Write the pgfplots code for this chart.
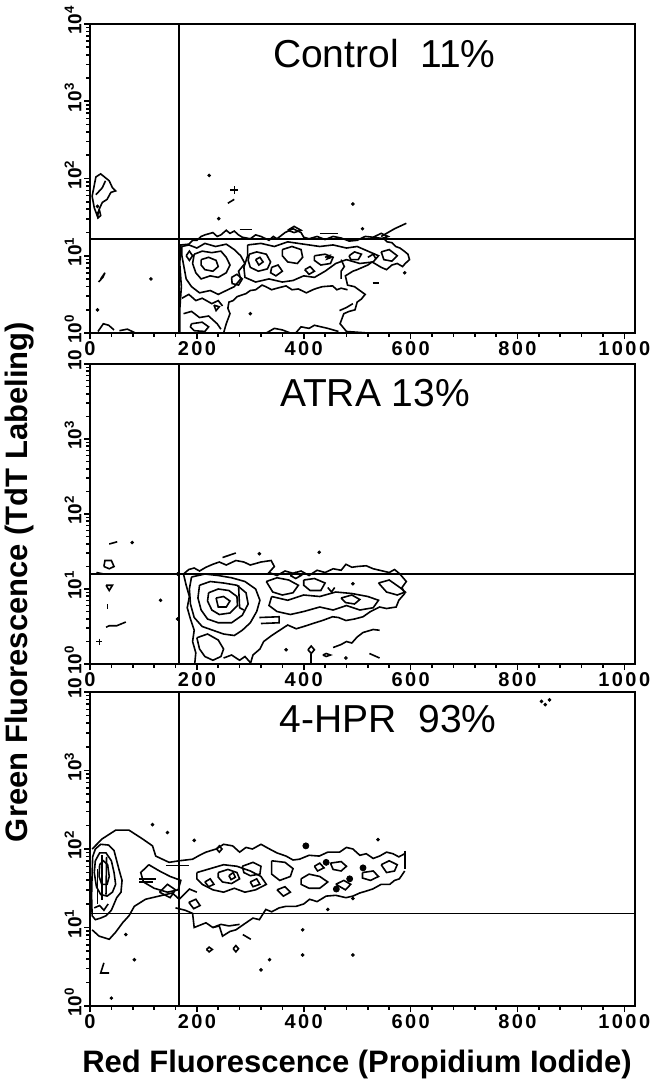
\documentclass[border=0pt]{standalone}
\usepackage{fontspec}
\setmainfont{Liberation Sans}
\newfontfamily\tickfont[LetterSpace=12]{Liberation Sans}
\usepackage{pgfplots}
\pgfplotsset{compat=1.18}

\pgfplotsset{
  facs/.style={
    scale only axis, width=272.5pt,
    xmin=0, xmax=1020, ymin=0, ymax=4,
    axis line style={line width=1pt},
    xtick={0,200,400,600,800,1000},
    xticklabels={0,200,400,600,800,1000},
    minor x tick num=4,
    ytick={0,1,2,3,4},
    minor ytick={0.301,0.477,0.602,0.699,0.778,0.845,0.903,0.954,
      1.301,1.477,1.602,1.699,1.778,1.845,1.903,1.954,
      2.301,2.477,2.602,2.699,2.778,2.845,2.903,2.954,
      3.301,3.477,3.602,3.699,3.778,3.845,3.903,3.954},
    tick align=outside, tick pos=left,
    major tick length=3pt, minor tick length=1.8pt,
    every tick/.style={black, line width=0.8pt},
    xticklabel style={font=\tickfont\bfseries\fontsize{10}{11}\selectfont, inner sep=1pt},
    yticklabel style={font=\bfseries\fontsize{9.5}{10}\selectfont,
      rotate=90, anchor=south, inner sep=1pt, xshift=2pt},
    clip=false,
  },
  cont/.style={black, line width=0.8pt, mark=none},
  gate/.style={black, line width=0.85pt, mark=none},
  dots/.style={only marks, mark=*, mark size=0.7pt, black},
}

\begin{document}
\begin{tikzpicture}
\useasboundingbox (0,0) rectangle (327.5pt,-542pt);

% ---------------- Control ----------------
\begin{axis}[facs, height=154.5pt, at={(45pt,-12pt)}, anchor=north west,
  yticklabels={10\textsuperscript{0},10\textsuperscript{1},10\textsuperscript{2},10\textsuperscript{3},10\textsuperscript{4}}]
\addplot[gate] coordinates {(166,0) (166,4)};
\addplot[gate] coordinates {(0,1.22) (1020,1.22)};
% outer contour
\addplot[cont] coordinates {(168,0.00) (168,0.30) (171,0.60) (168,0.90) (170,1.14) (185,1.15) (192,1.20) (200,1.20) (208,1.25) (215,1.27) (230,1.30) (238,1.25) (245,1.27) (255,1.33) (262,1.29) (270,1.32) (278,1.27) (285,1.24) (300,1.22) (310,1.27) (320,1.25) (335,1.20) (343,1.25) (350,1.22) (365,1.30) (380,1.35) (395,1.30) (400,1.24) (410,1.22) (425,1.25) (440,1.21) (455,1.25) (470,1.23) (485,1.19) (500,1.20) (515,1.25) (530,1.24) (550,1.22) (556,1.18) (565,1.17) (572,1.12) (580,1.10) (588,1.06) (595,1.02) (598,0.95) (590,0.90) (585,0.86) (575,0.90) (565,0.88) (555,0.82) (545,0.85) (528,0.92) (520,0.88) (510,0.85) (500,0.82) (492,0.80) (478,0.74) (482,0.62) (495,0.60) (505,0.55) (515,0.50) (508,0.44) (500,0.40) (496,0.30) (485,0.28) (475,0.25) (468,0.12) (480,0.02) (520,0.00)};
\addplot[cont] coordinates {(250,0.00) (255,0.12) (262,0.25) (258,0.32) (260,0.40) (268,0.42) (275,0.47) (292,0.51) (300,0.55) (310,0.56) (322,0.62) (329,0.60) (340,0.56) (350,0.58) (367,0.61) (378,0.56) (390,0.57) (405,0.52) (417,0.56) (425,0.58) (435,0.60) (454,0.61) (462,0.56) (470,0.58) (482,0.56)};
% inner loops
\addplot[cont] coordinates {(172,1.12) (185,1.14) (200,1.10) (215,1.16) (235,1.12) (255,1.15) (270,1.08) (282,1.00) (290,0.90) (278,0.80) (282,0.70) (270,0.60) (255,0.55) (240,0.50) (225,0.55) (205,0.52) (190,0.60) (180,0.70) (176,0.85) (172,1.00) (172,1.12)};
\addplot[cont] coordinates {(195,1.02) (210,1.06) (228,1.04) (245,1.06) (255,0.98) (262,0.88) (255,0.78) (240,0.72) (225,0.74) (208,0.70) (198,0.78) (192,0.90) (195,1.02)};
\addplot[cont] coordinates {(208,0.95) (222,0.98) (236,0.94) (240,0.86) (230,0.80) (215,0.82) (208,0.88) (208,0.95)};
\addplot[cont] coordinates {(298,1.02) (312,1.05) (330,1.02) (338,0.92) (332,0.83) (315,0.80) (300,0.85) (296,0.94) (298,1.02)};
\addplot[cont] coordinates {(360,1.08) (378,1.12) (395,1.08) (398,0.98) (388,0.90) (370,0.92) (360,1.00) (360,1.08)};
\addplot[cont] coordinates {(295,1.14) (320,1.16) (345,1.12) (370,1.18) (400,1.15) (430,1.12) (455,1.14) (480,1.10) (500,1.12) (520,1.06) (540,1.00) (530,0.92) (505,0.90) (480,0.95) (460,0.90) (440,0.80) (420,0.72) (400,0.74) (380,0.68) (360,0.66) (335,0.70) (310,0.66) (290,0.72) (288,0.85) (295,1.00) (295,1.14)};
\addplot[cont] coordinates {(420,1.00) (440,1.02) (455,0.98) (450,0.90) (432,0.88) (420,0.94) (420,1.00)};
\addplot[cont] coordinates {(545,1.05) (560,1.08) (575,1.00) (565,0.93) (550,0.95) (545,1.05)};
\addplot[cont] coordinates {(265,0.72) (275,0.76) (285,0.70) (278,0.62) (266,0.64) (265,0.72)};
\addplot[cont] coordinates {(340,0.85) (352,0.88) (360,0.80) (348,0.74) (338,0.78) (340,0.85)};
\addplot[cont] coordinates {(470,0.70) (470,0.80) (476,0.86) (470,0.95)};
\addplot[cont] coordinates {(485,1.00) (495,1.05) (508,1.02) (502,0.95) (488,0.95) (485,1.00)};
\addplot[cont] coordinates {(180,1.00) (186,1.06) (192,1.00) (186,0.94) (180,1.00)};
\addplot[cont] coordinates {(402,0.82) (412,0.86) (420,0.80) (410,0.76) (402,0.82)};
\addplot[cont] coordinates {(310,0.95) (318,0.98) (324,0.92) (316,0.88) (310,0.95)};
\addplot[cont] coordinates {(520,0.98) (530,1.02) (535,0.96)};
\addplot[cont] coordinates {(172,0.45) (185,0.50) (198,0.42) (210,0.45) (228,0.38) (240,0.42) (248,0.35)};
\addplot[cont] coordinates {(175,0.25) (190,0.28) (205,0.20) (222,0.22) (238,0.12) (245,0.05)};
\addplot[cont] coordinates {(190,0.12) (210,0.14) (222,0.08) (215,0.02) (195,0.03) (188,0.08) (190,0.12)};
\addplot[cont] coordinates {(330,0.00) (345,0.06) (360,0.04) (375,0.00)};
\addplot[cont] coordinates {(385,0.00) (395,0.08) (410,0.06) (420,0.10) (445,0.06) (465,0.02)};
\addplot[cont] coordinates {(232,0.36) (242,0.34) (236,0.29) (232,0.36)};
\addplot[cont] coordinates {(467,0.29) (480,0.33) (492,0.38)};
\addplot[cont] coordinates {(529,0.65) (541,0.65)};
\addplot[cont] coordinates {(545,1.25) (570,1.35) (592,1.42)};
\addplot[cont] coordinates {(430,1.29) (465,1.29)};
\addplot[cont] coordinates {(370,1.33) (382,1.38) (395,1.33) (382,1.30) (370,1.33)};
\addplot[cont] coordinates {(530,1.24) (545,1.29) (558,1.25) (545,1.22) (530,1.24)};
\addplot[cont] coordinates {(280,1.34) (304,1.34)};
\addplot[cont] coordinates {(440,0.98) (448,1.00) (444,0.96) (452,0.98)};
% left cluster
\addplot[cont] coordinates {(4,1.77) (11,2.02) (20,2.06) (36,1.97) (42,1.88) (48,1.84) (39,1.82) (32,1.73) (23,1.69) (17,1.60) (14,1.51) (8,1.62) (4,1.77)};
\addplot[cont] coordinates {(11,1.79) (23,1.88) (29,1.97)};
\addplot[cont] coordinates {(13,1.55) (18,1.58) (20,1.52) (15,1.49) (13,1.55)};
\addplot[cont] coordinates {(16,0.66) (24,0.72) (28,0.78) (20,0.70)};
\addplot[cont] coordinates {(15,0.02) (25,0.12) (35,0.10) (45,0.04)};
\addplot[cont] coordinates {(55,0.03) (70,0.05) (85,0.00)};
\addplot[cont] coordinates {(258,1.68) (270,1.73)};
\addplot[dots] coordinates {(223,2.04) (492,1.67) (241,1.48) (510,1.35) (114,0.70) (14,0.30) (589,0.78) (14,1.64) (300,0.25)};
\addplot[only marks, mark=+, mark size=2pt, black, line width=0.6pt] coordinates {(270,1.85)};
\node[font=\fontsize{19.5}{20}\selectfont] at (rel axis cs:0.54,0.905) {Control\ \ 11\%};
\end{axis}

% ---------------- ATRA ----------------
\begin{axis}[facs, height=150pt, at={(45pt,-182pt)}, anchor=north west,
  yticklabels={10\textsuperscript{0},10\textsuperscript{1},10\textsuperscript{2},10\textsuperscript{3},10}]
\addplot[gate] coordinates {(166,0) (166,4)};
\addplot[gate] coordinates {(0,1.20) (1020,1.20)};
\addplot[cont] coordinates {(175,1.20) (185,1.26) (195,1.28) (205,1.24) (217,1.29) (230,1.33) (242,1.36) (255,1.32) (273,1.38) (288,1.36) (300,1.32) (320,1.36) (339,1.38) (345,1.30) (335,1.22) (350,1.18) (365,1.24) (380,1.21) (395,1.24) (410,1.18) (425,1.25) (440,1.22) (455,1.27) (470,1.25) (479,1.33) (490,1.29) (500,1.30) (517,1.31) (530,1.27) (542,1.25) (560,1.22) (570,1.26) (580,1.20) (592,1.10) (584,1.02) (589,0.94) (578,0.85) (573,0.76) (555,0.74) (542,0.76) (525,0.70) (511,0.63) (495,0.60) (479,0.58) (465,0.62) (454,0.63) (435,0.58) (417,0.54) (400,0.50) (386,0.47) (370,0.52) (355,0.45) (340,0.38) (325,0.30) (318,0.20) (305,0.12) (300,0.00)};
\addplot[cont] coordinates {(175,1.20) (180,1.05) (186,0.90) (182,0.75) (188,0.60) (195,0.45) (192,0.30) (198,0.15) (196,0.00)};
\addplot[cont] coordinates {(190,1.16) (215,1.20) (240,1.18) (265,1.15) (290,1.10) (310,1.00) (318,0.85) (312,0.70) (300,0.55) (285,0.45) (270,0.38) (250,0.40) (230,0.45) (210,0.50) (195,0.62) (188,0.80) (186,1.00) (190,1.16)};
\addplot[cont] coordinates {(205,1.05) (225,1.10) (250,1.08) (275,1.05) (292,0.95) (296,0.80) (285,0.65) (265,0.55) (240,0.55) (220,0.60) (208,0.72) (202,0.88) (205,1.05)};
\addplot[cont] coordinates {(222,0.95) (240,1.00) (260,0.98) (275,0.90) (276,0.78) (262,0.68) (242,0.66) (228,0.72) (220,0.84) (222,0.95)};
\addplot[cont] coordinates {(236,0.88) (250,0.90) (262,0.84) (255,0.76) (240,0.76) (236,0.88)};
\addplot[cont] coordinates {(278,1.05) (280,0.75) (288,0.72)};
\addplot[cont] coordinates {(330,1.10) (350,1.15) (372,1.12) (390,1.05) (380,0.95) (360,0.92) (342,0.96) (330,1.10)};
\addplot[cont] coordinates {(400,1.12) (420,1.14) (440,1.08) (432,0.98) (412,0.98) (400,1.05) (400,1.12)};
\addplot[cont] coordinates {(340,0.90) (370,0.85) (400,0.92) (430,0.90) (460,0.96) (490,0.94) (520,0.90) (540,0.85) (530,0.75) (505,0.72) (480,0.78) (455,0.72) (430,0.76) (400,0.70) (375,0.66) (350,0.70) (335,0.78) (340,0.90)};
\addplot[cont] coordinates {(470,0.88) (490,0.92) (505,0.86) (495,0.80) (478,0.82) (470,0.88)};
\addplot[cont] coordinates {(540,1.08) (560,1.12) (580,1.02) (590,0.96) (575,0.92) (555,0.96) (540,1.08)};
\addplot[cont] coordinates {(375,1.18) (385,1.22) (395,1.18) (385,1.14) (375,1.18)};
\addplot[cont] coordinates {(445,1.02) (452,0.96) (458,1.02)};
\addplot[cont] coordinates {(200,0.35) (220,0.40) (240,0.32) (250,0.20) (245,0.10) (230,0.05) (215,0.10) (205,0.20) (200,0.35)};
\addplot[cont] coordinates {(317,0.62) (354,0.63) (354,0.55) (320,0.54)};
\addplot[cont] coordinates {(250,0.08) (265,0.12) (280,0.05) (290,0.10) (300,0.02)};
\addplot[cont] coordinates {(414,0.00) (414,0.14)};
\addplot[cont] coordinates {(408,0.19) (414,0.24) (420,0.19) (414,0.14) (408,0.19)};
\addplot[cont] coordinates {(455,0.22) (470,0.26) (480,0.30) (490,0.28) (500,0.36) (511,0.42) (530,0.46) (542,0.45)};
\addplot[cont] coordinates {(436,0.12) (442,0.14) (450,0.12) (442,0.10) (436,0.12)};
\addplot[cont] coordinates {(523,0.14) (542,0.08)};
\addplot[cont] coordinates {(248,1.42) (273,1.48)};
\addplot[cont] coordinates {(26,1.30) (28,1.38) (40,1.38) (45,1.30) (36,1.27) (26,1.30)};
\addplot[cont] coordinates {(12,1.22) (26,1.20)};
\addplot[cont] coordinates {(30,1.05) (42,1.05) (36,0.98) (30,1.05)};
\addplot[cont] coordinates {(33,0.80) (33,0.74)};
\addplot[cont] coordinates {(30,0.49) (36,0.51) (50,0.51) (67,0.56)};
\addplot[cont] coordinates {(36,1.60) (51,1.63)};
\addplot[only marks, mark=+, mark size=1.5pt, black, line width=0.5pt] coordinates {(17,0.30)};
\addplot[dots] coordinates {(132,0.85) (79,1.62) (429,1.49) (317,1.47) (492,1.07) (479,0.08) (367,0.19) (164,0.60) (164,1.20)};
\node[font=\fontsize{19.5}{20}\selectfont] at (rel axis cs:0.523,0.903) {ATRA 13\%};
\end{axis}

% ---------------- 4-HPR ----------------
\begin{axis}[facs, height=157pt, at={(45pt,-346pt)}, anchor=north west,
  yticklabels={10\textsuperscript{0},10\textsuperscript{1},10\textsuperscript{2},10\textsuperscript{3},10}]
\addplot[gate] coordinates {(166,0) (166,4)};
\addplot[gate] coordinates {(0,1.18) (1020,1.18)};
% left cluster
\addplot[cont] coordinates {(5,1.90) (10,2.00) (20,2.06) (35,2.05) (45,1.98) (50,1.85) (55,1.72) (60,1.60) (58,1.45) (50,1.38) (45,1.30) (40,1.22) (30,1.15) (20,1.12) (10,1.10) (4,1.15) (3,1.40) (4,1.70) (5,1.90)};
\addplot[cont] coordinates {(10,1.85) (18,1.95) (30,1.95) (40,1.85) (45,1.70) (48,1.55) (42,1.45) (32,1.40) (20,1.42) (12,1.52) (8,1.70) (10,1.85)};
\addplot[cont] coordinates {(18,1.80) (25,1.85) (33,1.80) (36,1.65) (32,1.55) (22,1.55) (17,1.65) (18,1.80)};
\addplot[cont] coordinates {(22,1.35) (22,1.92)};
\addplot[cont] coordinates {(30,1.42) (31,1.90)};
\addplot[cont] coordinates {(14,1.30) (14,1.75)};
\addplot[cont] coordinates {(8,1.25) (18,1.28) (26,1.22) (34,1.30)};
% envelope
\addplot[cont] coordinates {(4,0.97) (17,0.89) (36,0.85) (48,0.94) (61,1.06) (73,1.15) (83,1.27) (104,1.36) (129,1.40) (154,1.44) (167,1.36) (186,1.49) (200,1.45)};
\addplot[cont] coordinates {(4,2.00) (23,2.13) (48,2.24) (73,2.24) (98,2.13) (117,2.04) (123,1.91) (148,1.83) (167,1.85) (192,1.87) (205,1.92) (217,1.96) (236,2.00) (250,2.06) (267,2.04) (280,1.96) (292,2.02) (304,2.00) (320,2.06) (336,2.00) (350,1.95) (367,1.91) (380,1.86) (392,1.87) (410,1.92) (429,1.91) (445,1.96) (467,1.96) (480,2.02) (492,2.00) (505,1.92) (517,1.94) (530,1.88) (542,1.91) (555,1.96) (567,1.94) (578,1.90) (589,1.94)};
\addplot[cont] coordinates {(589,1.98) (589,1.74)};
\addplot[cont] coordinates {(589,1.72) (579,1.62) (570,1.60) (561,1.55) (545,1.55) (529,1.49) (515,1.46) (505,1.44) (492,1.40) (479,1.38) (460,1.41) (442,1.40) (425,1.33) (411,1.36) (400,1.30) (386,1.27) (367,1.27) (354,1.25) (340,1.20) (329,1.23) (317,1.10) (305,1.12) (292,1.06) (273,0.97) (262,0.95) (248,0.89) (242,1.02) (230,1.00) (217,1.06) (195,1.00) (192,1.18) (178,1.22) (160,1.25)};
% inner loops
\addplot[cont] coordinates {(200,1.70) (225,1.75) (250,1.80) (275,1.78) (300,1.72) (320,1.65) (330,1.55) (310,1.48) (290,1.45) (270,1.50) (250,1.45) (230,1.48) (210,1.55) (200,1.62) (200,1.70)};
\addplot[cont] coordinates {(240,1.70) (258,1.74) (275,1.70) (280,1.62) (265,1.56) (248,1.58) (240,1.64) (240,1.70)};
\addplot[cont] coordinates {(285,1.78) (305,1.83) (320,1.78) (318,1.68) (300,1.66) (288,1.70) (285,1.78)};
\addplot[cont] coordinates {(340,1.85) (365,1.83) (380,1.75) (375,1.65) (355,1.60) (340,1.68) (340,1.85)};
\addplot[cont] coordinates {(395,1.62) (410,1.68) (430,1.65) (445,1.58) (430,1.50) (410,1.50) (395,1.55) (395,1.62)};
\addplot[cont] coordinates {(450,1.82) (470,1.84) (480,1.78) (470,1.72) (455,1.74) (450,1.82)};
\addplot[cont] coordinates {(510,1.70) (530,1.72) (540,1.65) (525,1.60) (510,1.63) (510,1.70)};
\addplot[cont] coordinates {(545,1.80) (560,1.85) (575,1.80) (570,1.72) (555,1.70) (545,1.80)};
\addplot[cont] coordinates {(110,1.80) (130,1.72) (150,1.65) (170,1.60) (165,1.48) (145,1.45) (120,1.50) (100,1.58) (95,1.70) (110,1.80)};
\addplot[cont] coordinates {(130,1.45) (145,1.55) (160,1.48) (150,1.38) (130,1.45)};
\addplot[cont] coordinates {(260,1.66) (268,1.70) (272,1.64) (264,1.61) (260,1.66)};
\addplot[cont] coordinates {(215,1.58) (225,1.62) (232,1.55) (222,1.52) (215,1.58)};
\addplot[cont] coordinates {(300,1.58) (312,1.62) (318,1.55) (305,1.52) (300,1.58)};
\addplot[cont] coordinates {(350,1.48) (365,1.52) (375,1.45) (362,1.40) (350,1.48)};
\addplot[cont] coordinates {(420,1.78) (430,1.82) (438,1.76) (426,1.72) (420,1.78)};
\addplot[cont] coordinates {(185,1.32) (198,1.36) (206,1.28) (194,1.24) (185,1.32)};
\addplot[cont] coordinates {(460,1.55) (475,1.60) (488,1.55) (478,1.48) (460,1.55)};
\addplot[cont] coordinates {(92,1.62) (123,1.62)};
\addplot[cont] coordinates {(92,1.58) (118,1.58)};
\addplot[cont] coordinates {(142,1.79) (186,1.79)};
\addplot[cont] coordinates {(230,1.00) (245,1.04) (260,1.02) (280,1.04)};
% scattered events
\addplot[cont] coordinates {(218,0.72) (223,0.75) (229,0.72) (223,0.69) (218,0.72)};
\addplot[cont] coordinates {(268,0.73) (273,0.77) (278,0.73) (273,0.69) (268,0.73)};
\addplot[cont] coordinates {(286,0.91) (301,0.85)};
\addplot[cont] coordinates {(26,0.55) (20,0.42) (36,0.42)};
\addplot[cont] coordinates {(237,2.00) (242,2.04) (247,2.00) (242,1.96) (237,2.00)};
\addplot[only marks, mark=*, mark size=1.5pt, black] coordinates {(404,2.04) (442,1.83) (461,1.49) (511,1.76) (486,1.62)};
\addplot[dots] coordinates {(336,0.59) (320,0.46) (398,0.65) (492,0.65) (83,0.59) (398,0.97) (67,0.91) (117,2.31) (145,2.21) (195,2.11) (539,2.12) (492,1.37) (445,1.23) (845,3.88) (860,3.90) (852,3.84) (40,0.10)};
\node[font=\fontsize{19.5}{20}\selectfont] at (rel axis cs:0.547,0.914) {4-HPR\ \ 93\%};
\end{axis}

\node[rotate=90, font=\bfseries\fontsize{15.5}{16}\selectfont] at (10pt,-291pt) {Green Fluorescence (TdT Labeling)};
\node[font=\bfseries\fontsize{15.5}{16}\selectfont] at (178.5pt,-532pt) {Red Fluorescence (Propidium Iodide)};
\end{tikzpicture}
\end{document}
